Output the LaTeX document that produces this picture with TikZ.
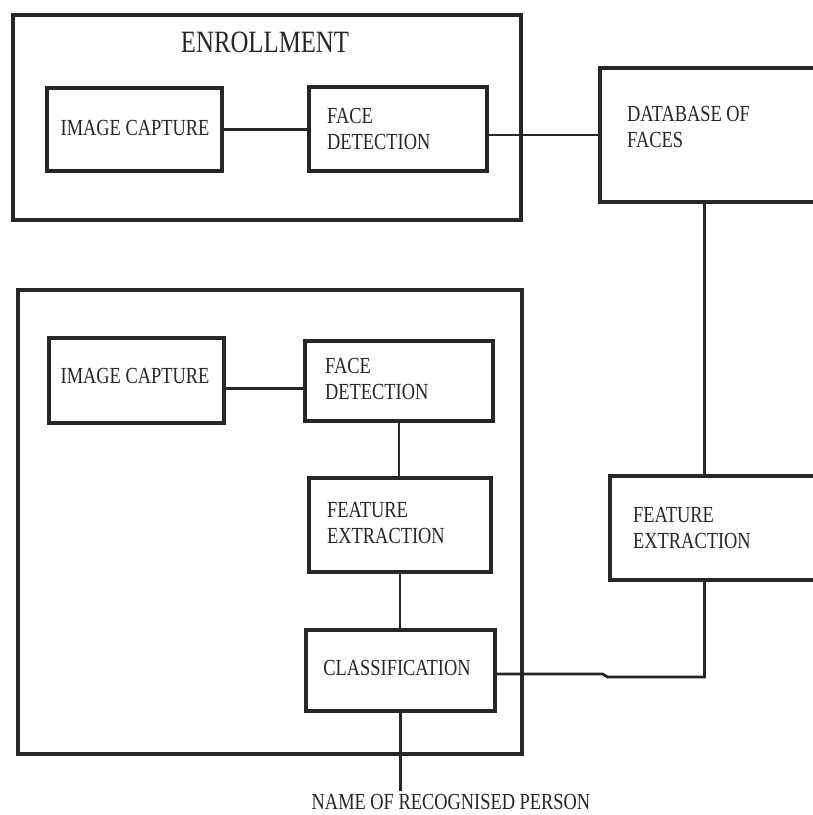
\documentclass[tikz,border=0pt]{standalone}
\usepackage{fontspec}
\setmainfont{Liberation Serif}
\newfontfamily\boxfont[FakeStretch=0.8]{Liberation Serif}
\begin{document}
\begin{tikzpicture}[x=1pt,y=-1pt,
  box/.style={draw=black!85, line width=3.2pt, inner sep=0pt},
  conn/.style={draw=black!85, line width=2.8pt},
  lbl/.style={font=\boxfont\fontsize{23}{26}\selectfont, text=black!85, inner sep=0pt, align=left},
  title/.style={font=\boxfont\fontsize{31}{34}\selectfont, text=black!85, inner sep=0pt}]
\useasboundingbox (0,0) rectangle (813,815);
\fill[white] (0,0) rectangle (813,815);
\clip (0,0) rectangle (813,815);
% frames
\node[box, minimum width=508pt, minimum height=205pt] (enr) at (267,117.5) {};
\node[box, minimum width=504pt, minimum height=464pt] (rec) at (270,522) {};
% enrollment
\node[title] (enrt) at (265,42.5) {ENROLLMENT};
\node[box, minimum width=175pt, minimum height=83pt] (ic1) at (134.5,129.5) {};
\node[lbl] (ic1t) at (135,128) {IMAGE CAPTURE};
\node[box, minimum width=178pt, minimum height=84pt] (fd1) at (398,129) {};
\node[lbl, anchor=north west] (fd1t) at (327,108) {FACE\\DETECTION};
\node[box, minimum width=260pt, minimum height=134pt] (db) at (730,135) {};
\node[lbl, anchor=north west] (dbt) at (627,106) {DATABASE OF\\FACES};
% recognition
\node[box, minimum width=175pt, minimum height=85pt] (ic2) at (136.5,380.5) {};
\node[lbl] (ic2t) at (135,376) {IMAGE CAPTURE};
\node[box, minimum width=188pt, minimum height=80pt] (fd2) at (399,381) {};
\node[lbl, anchor=north west] (fd2t) at (325,358) {FACE\\DETECTION};
\node[box, minimum width=182pt, minimum height=94pt] (fe2) at (400,525) {};
\node[lbl, anchor=north west] (fe2t) at (327,502) {FEATURE\\EXTRACTION};
\node[box, minimum width=189pt, minimum height=81pt] (cl) at (400.5,670.5) {};
\node[lbl] (clt) at (397,668) {CLASSIFICATION};
\node[box, minimum width=260pt, minimum height=104pt] (fer) at (740,528) {};
\node[lbl, anchor=north west] (fert) at (633,507) {FEATURE\\EXTRACTION};
\node[lbl] (name) at (451,802) {NAME OF RECOGNISED PERSON};
% connectors
\draw[conn] (ic1.east) -- (ic1.east -| fd1.west);
\draw[conn] (db.west) -- (db.west -| fd1.east);
\draw[conn] ([xshift=106pt]db.south west) -- ([xshift=96pt]fer.north west);
\draw[conn] ([yshift=-8pt]ic2.east) -- ([yshift=-8pt]ic2.east -| fd2.west);
\draw[conn] (fd2.south) -- (fd2.south |- fe2.north);
\draw[conn] (fe2.south) -- (fe2.south |- cl.north);
\draw[conn] ([yshift=-3.5pt]cl.east) -- ++(106,0) -- ++(5,3) -| ([xshift=96pt]fer.south west);
\draw[conn] (cl.south) -- ([yshift=3pt]cl.south |- name.north);
\end{tikzpicture}
\end{document}
